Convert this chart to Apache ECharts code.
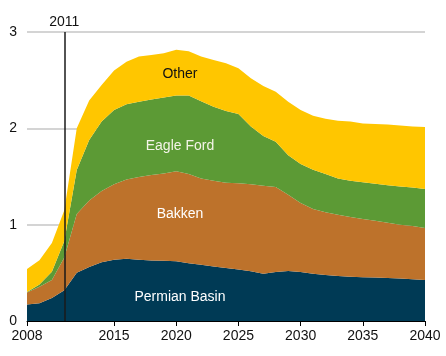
<!DOCTYPE html>
<html>
<head>
<meta charset="utf-8">
<script src="https://cdn.jsdelivr.net/npm/echarts@6/dist/echarts.min.js"></script>
<style>html,body{margin:0;padding:0;background:#fff;}#c{width:446px;height:356px;}</style>
</head>
<body>
<div id="c"></div>
<script>
var years = [];
for (var y = 2008; y <= 2040; y++) years.push(String(y));
var xTicks = [2008, 2015, 2020, 2025, 2030, 2035, 2040];
var yTicks = [0, 1, 2, 3];
var permian = [0.17,0.185,0.24,0.32,0.50,0.56,0.61,0.635,0.645,0.635,0.627,0.625,0.62,0.60,0.585,0.565,0.55,0.535,0.516,0.49,0.509,0.519,0.509,0.49,0.478,0.467,0.46,0.454,0.452,0.446,0.44,0.433,0.426];
var bakken = [0.125,0.171,0.186,0.34,0.61,0.69,0.74,0.785,0.825,0.86,0.889,0.905,0.935,0.926,0.895,0.892,0.886,0.895,0.904,0.915,0.881,0.791,0.716,0.673,0.652,0.637,0.62,0.606,0.588,0.574,0.56,0.553,0.54];
var eagleFord = [0.005,0.024,0.086,0.17,0.458,0.63,0.72,0.77,0.78,0.782,0.784,0.79,0.785,0.814,0.80,0.768,0.744,0.72,0.60,0.515,0.47,0.41,0.405,0.407,0.396,0.376,0.375,0.38,0.386,0.39,0.395,0.399,0.404];
var other = [0.24,0.25,0.298,0.32,0.432,0.41,0.38,0.41,0.44,0.468,0.46,0.46,0.475,0.46,0.465,0.485,0.496,0.474,0.50,0.52,0.52,0.557,0.56,0.56,0.574,0.60,0.615,0.61,0.619,0.63,0.635,0.635,0.645];
var names = ['Permian Basin', 'Bakken', 'Eagle Ford', 'Other'];
var colors = ['#003a55', '#bd722b', '#5c9a35', '#ffc600'];
var labelColors = ['#ffffff', '#ffffff', '#f4f4e8', '#111111'];
var labelPos = [[2020.3, 0.244], [2020.3, 1.106], [2020.3, 1.82], [2020.3, 2.56]];
var markYear = 2011;

var FONT = 'Liberation Sans, Arial, sans-serif';
var all = [permian, bakken, eagleFord, other];
var series = all.map(function (arr, i) {
  return {
    name: names[i], type: 'line', stack: 'total', data: arr,
    xAxisIndex: 0, yAxisIndex: 0,
    showSymbol: false, symbol: 'none', lineStyle: { width: 0 },
    areaStyle: { color: colors[i], opacity: 1 }, itemStyle: { color: colors[i] },
    silent: true, animation: false, z: 2
  };
});
series.push({
  name: 'annotations', type: 'scatter', xAxisIndex: 1, yAxisIndex: 0, data: [], z: 5, silent: true,
  markPoint: {
    symbol: 'circle', symbolSize: 1, itemStyle: { color: 'rgba(0,0,0,0)' },
    data: names.map(function (n, i) {
      return { coord: labelPos[i], label: { show: true, position: 'inside', formatter: n, color: labelColors[i], fontSize: 14, fontFamily: FONT } };
    })
  },
  markLine: {
    silent: true, symbol: ['none', 'none'], animation: false,
    lineStyle: { color: '#1a1a1a', width: 1.5, type: 'solid' },
    label: { show: true, position: 'end', formatter: String(markYear), color: '#111', fontSize: 14, fontFamily: FONT, distance: 3 },
    data: [{ xAxis: markYear }]
  }
});

var chart = echarts.init(document.getElementById('c'), null, { renderer: 'canvas' });
chart.setOption({
  animation: false,
  grid: { left: 27, right: 21, top: 32, bottom: 35 },
  xAxis: [{
    type: 'category', data: years, boundaryGap: false, show: false
  }, {
    type: 'value', min: 2008, max: 2040, position: 'bottom',
    axisLine: { show: true, onZero: false, lineStyle: { color: '#000', width: 1 } },
    axisTick: { show: true, customValues: xTicks, length: 5, lineStyle: { color: '#000' } },
    axisLabel: { customValues: xTicks, color: '#111', fontSize: 14, fontFamily: FONT, formatter: function (v) { return String(v); } },
    splitLine: { show: false }
  }],
  yAxis: {
    type: 'value', min: yTicks[0], max: yTicks[yTicks.length - 1], interval: 1,
    axisLine: { show: false }, axisTick: { show: false },
    axisLabel: { color: '#111', fontSize: 14, fontFamily: FONT, margin: 10 },
    splitLine: { show: true, lineStyle: { color: '#c6c6c6', width: 1.5 } }
  },
  series: series
});
</script>
</body>
</html>
